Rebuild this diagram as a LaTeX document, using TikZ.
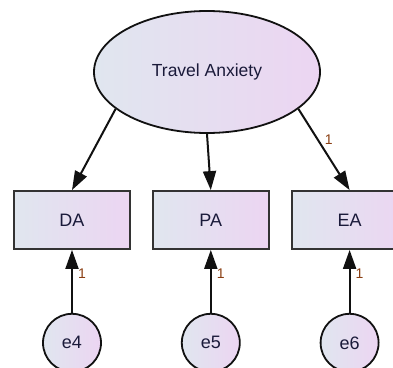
\documentclass[tikz,border=0pt]{standalone}
\usepackage{fontspec}
\setmainfont{Liberation Sans}
\usepackage{xcolor}
\usepackage{tikz}
\usetikzlibrary{shapes.geometric, arrows.meta, positioning}
\definecolor{fillL}{HTML}{E0E6EF}
\definecolor{fillR}{HTML}{ECD5F2}
\definecolor{inkline}{HTML}{111111}
\definecolor{inktext}{HTML}{1A1A3A}
\definecolor{onecol}{HTML}{8A3E12}
\tikzset{
  latent/.style={
    ellipse, draw=inkline, line width=1.8pt, left color=fillL, right color=fillR,
    minimum width=226pt, minimum height=122pt, inner sep=0pt,
    text=inktext, font=\fontsize{17.5}{20}\selectfont
  },
  observed/.style={
    rectangle, draw=black!80, line width=1.8pt, left color=fillL, right color=fillR,
    minimum width=116pt, minimum height=58pt, inner sep=0pt,
    text=inktext, font=\fontsize{18}{21}\selectfont
  },
  errvar/.style={
    circle, draw=inkline, line width=1.8pt, left color=fillL, right color=fillR,
    minimum size=58pt, inner sep=0pt,
    text=inktext, font=\fontsize{18}{21}\selectfont
  },
  loading/.style={-{Triangle[length=19pt, width=13pt]}, line width=2pt, draw=inkline},
  weight/.style={font=\fontsize{14}{16}\selectfont, text=onecol, inner sep=1pt}
}

\begin{document}
\begin{tikzpicture}[x=1pt, y=-1pt, node distance=21pt]
  \useasboundingbox (0,0) rectangle (393,367);
  \node[latent] (ta) at (207,72) {Travel Anxiety};
  \node[observed] (da) at (72,220) {DA};
  \node[observed, right=of da] (pa) {PA};
  \node[observed, right=of pa] (ea) {EA};
  \node[errvar, below=63pt of da] (e4) {e4};
  \node[errvar, below=63pt of pa] (e5) {e5};
  \node[errvar, below=63pt of ea] (e6) {e6};

  % loadings
  \draw[loading] (ta.202) -- (da.north);
  \draw[loading] (ta.south) -- (pa.north);
  \draw[loading] (ta.338) -- node[weight, pos=0.38, right=5pt] {1} (ea.north);

  % error terms
  \foreach \e/\o in {e4/da,e5/pa,e6/ea}
    \draw[loading] (\e.north) -- node[weight, pos=0.62, right=4pt] {1} (\o.south);
\end{tikzpicture}
\end{document}
